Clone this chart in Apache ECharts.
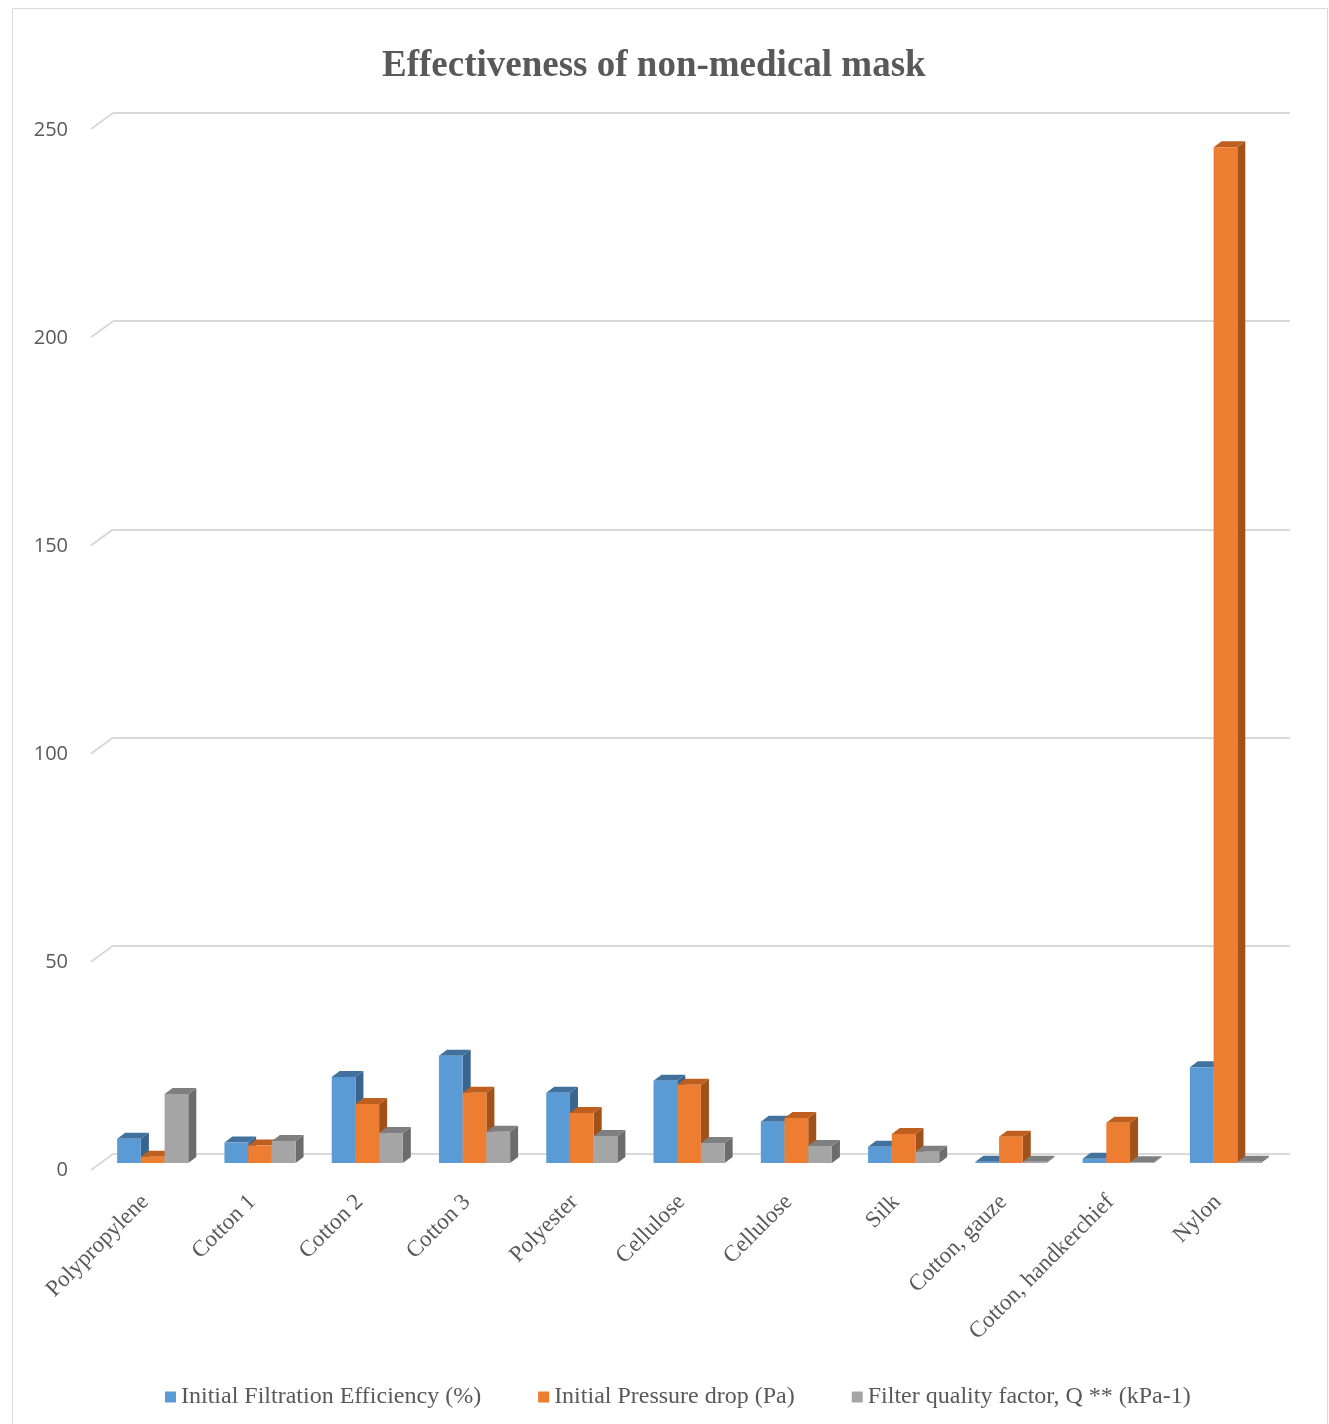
<!DOCTYPE html>
<html>
<head>
<meta charset="utf-8">
<script src="https://cdn.jsdelivr.net/npm/echarts@6/dist/echarts.min.js"></script>
<style>
  html, body { margin: 0; padding: 0; background: #fff; }
  #main { width: 1329px; height: 1424px; }
</style>
</head>
<body>
<div id="main"></div>
<script>
// categories on x
var materials = ['Polypropylene', 'Cotton 1', 'Cotton 2', 'Cotton 3', 'Polyester', 'Cellulose',
  'Cellulose', 'Silk', 'Cotton, gauze', 'Cotton, handkerchief', 'Nylon']
// series values
var filtrationEff = [5.8, 4.9, 20.7, 25.8, 16.9, 19.8, 9.9, 3.9, 0.3, 1.0, 23.0]
var pressureDrop = [1.5, 4.2, 14.2, 16.9, 12.0, 18.8, 10.8, 7.0, 6.3, 9.7, 244.2]
var qualityFactor = [16.6, 5.3, 7.2, 7.5, 6.5, 4.8, 4.1, 2.7, 0.3, 0.2, 0.3]
// y axis ticks
var yTicks = [0, 50, 100, 150, 200, 250]

var seriesNames = ['Initial Filtration Efficiency (%)', 'Initial Pressure drop (Pa)', 'Filter quality factor, Q ** (kPa-1)']
var colors = [
  { front: '#5b9bd5', top: '#41719c', side: '#39648d' },
  { front: '#ed7d31', top: '#be5f1f', side: '#a1521b' },
  { front: '#a5a5a5', top: '#7f7f7f', side: '#6c6c6c' }
]

var chart = echarts.init(document.getElementById('main'))

function makeBox(idx) {
  return function (params, api) {
    var cat = api.value(0)
    var val = api.value(1)
    var base = api.coord([cat, 0])
    var top = api.coord([cat, val])
    var band = api.size([1, 0])[0]
    var w = band * 0.221
    var x = base[0] - band * 0.34 + idx * w
    var dx = 8
    var dy = 6
    var c = colors[idx]
    return {
      type: 'group',
      children: [
        {
          type: 'polygon',
          shape: { points: [[x + w, top[1]], [x + w + dx, top[1] - dy], [x + w + dx, base[1] - dy], [x + w, base[1]]] },
          style: { fill: c.side }
        },
        {
          type: 'polygon',
          shape: { points: [[x, top[1]], [x + dx, top[1] - dy], [x + w + dx, top[1] - dy], [x + w, top[1]]] },
          style: { fill: c.top }
        },
        {
          type: 'rect',
          shape: { x: x, y: top[1], width: w, height: base[1] - top[1] },
          style: { fill: c.front }
        }
      ]
    }
  }
}

function pairs(arr) {
  return arr.map(function (v, i) { return [i, v] })
}

var option = {
  backgroundColor: '#fff',
  animation: false,
  title: {
    text: 'Effectiveness of non-medical mask',
    left: 377,
    top: 43,
    textStyle: {
      fontFamily: 'Liberation Serif',
      fontSize: 37,
      fontWeight: 'bold',
      color: '#595959'
    }
  },
  graphic: [
    {
      type: 'rect',
      shape: { x: 12.5, y: 8.5, width: 1315, height: 1430 },
      style: { fill: 'none', stroke: '#d9d9d9', lineWidth: 1 },
      z: -10
    }
  ],
  legend: {
    top: 1380,
    left: 160,
    itemWidth: 11,
    itemHeight: 11,
    itemGap: 57,
    icon: 'rect',
    textStyle: {
      fontFamily: 'Liberation Serif',
      fontSize: 24,
      color: '#595959'
    },
    data: seriesNames
  },
  grid: [
    // back wall
    { left: 113, right: 39, top: 113, bottom: 270 },
    // bars
    { left: 100, right: 49, top: 123, bottom: 261 },
    // axis labels at the front edge
    { left: 91, right: 49, top: 130, bottom: 254 }
  ],
  xAxis: [
    { gridIndex: 0, type: 'value', min: 0, max: 1, show: false },
    {
      gridIndex: 1,
      type: 'category',
      data: materials,
      axisLine: { show: false },
      axisTick: { show: false },
      axisLabel: {
        interval: 0,
        rotate: 45,
        margin: 27,
        padding: [0, 12, 0, 0],
        fontFamily: 'Liberation Serif',
        fontSize: 23,
        color: '#595959'
      }
    },
    { gridIndex: 2, type: 'value', min: 0, max: 1, show: false }
  ],
  yAxis: [
    {
      gridIndex: 0,
      type: 'value',
      min: 0,
      max: 250,
      interval: 50,
      axisLine: { show: false },
      axisTick: { show: false },
      axisLabel: { show: false },
      splitLine: { lineStyle: { color: '#d9d9d9', width: 2 } }
    },
    { gridIndex: 1, type: 'value', min: 0, max: 250, interval: 50, show: false },
    {
      gridIndex: 2,
      type: 'value',
      min: 0,
      max: 250,
      interval: 50,
      axisLine: { show: false },
      axisTick: { show: false },
      splitLine: { show: false },
      axisLabel: {
        margin: 23,
        fontFamily: 'Open Sans',
        fontSize: 20,
        color: '#595959'
      }
    }
  ],
  series: [
    {
      type: 'custom',
      name: 'leftwall',
      xAxisIndex: 0,
      yAxisIndex: 0,
      silent: true,
      data: yTicks.map(function (v) { return [0, v] }),
      renderItem: function (params, api) {
        var p = api.coord([0, api.value(1)])
        return {
          type: 'line',
          shape: { x1: p[0], y1: p[1], x2: p[0] - 22, y2: p[1] + 16 },
          style: { stroke: '#d9d9d9', lineWidth: 2 }
        }
      }
    },
    {
      type: 'custom',
      name: seriesNames[0],
      xAxisIndex: 1,
      yAxisIndex: 1,
      itemStyle: { color: colors[0].front },
      data: pairs(filtrationEff),
      renderItem: makeBox(0)
    },
    {
      type: 'custom',
      name: seriesNames[1],
      xAxisIndex: 1,
      yAxisIndex: 1,
      itemStyle: { color: colors[1].front },
      data: pairs(pressureDrop),
      renderItem: makeBox(1)
    },
    {
      type: 'custom',
      name: seriesNames[2],
      xAxisIndex: 1,
      yAxisIndex: 1,
      itemStyle: { color: colors[2].front },
      data: pairs(qualityFactor),
      renderItem: makeBox(2)
    }
  ]
}

chart.setOption(option)
</script>
</body>
</html>
